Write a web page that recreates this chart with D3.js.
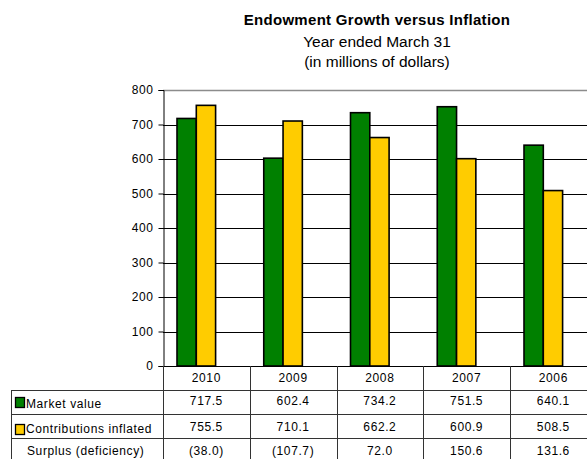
<!DOCTYPE html>
<html>
<head>
<meta charset="utf-8">
<script src="https://cdn.jsdelivr.net/npm/d3@7"></script>
<style>
  html, body { margin: 0; padding: 0; background: #fff; }
  svg { display: block; font-family: "Liberation Sans", Arial, sans-serif; }
  text { fill: #000; }
  .small { font-size: 12px; letter-spacing: 0.6px; }
</style>
</head>
<body>
<svg id="chart" width="587" height="459"></svg>
<script>
// Fiscal years (ended March 31), newest first
const years = ["2010", "2009", "2008", "2007", "2006"];
// Market value of the endowment, $ millions
const marketValue = [717.5, 602.4, 734.2, 751.5, 640.1];
// Contributions adjusted for inflation, $ millions
const contributionsInflated = [755.5, 710.1, 662.2, 600.9, 508.5];
const seriesNames = ["Market value", "Contributions inflated"];
const seriesColors = ["#008000", "#FFCC00"];
const yTicks = [0, 100, 200, 300, 400, 500, 600, 700, 800];

const series = [marketValue, contributionsInflated];
const surplus = marketValue.map((v, i) => +(v - contributionsInflated[i]).toFixed(1));

const svg = d3.select("#chart");

// Plot geometry
const plotLeft = 163, plotTop = 90, plotBottom = 366, step = 86.75;
const x0 = d3.scaleBand().domain(years).range([plotLeft, plotLeft + step * years.length]).padding(0);
const x1 = d3.scaleBand().domain(d3.range(series.length)).range([14, 14 + 38.6]).padding(0);
const y = d3.scaleLinear().domain([0, 800]).range([plotBottom, plotTop]);

// Titles
const titles = svg.append("g").attr("text-anchor", "middle");
titles.append("text").attr("x", 377).attr("y", 25)
  .style("font-size", "15px").style("font-weight", "bold").style("letter-spacing", "0.3px")
  .text("Endowment Growth versus Inflation");
titles.append("text").attr("x", 377).attr("y", 47)
  .style("font-size", "15.5px")
  .text("Year ended March 31");
titles.append("text").attr("x", 377).attr("y", 67)
  .style("font-size", "15.5px")
  .text("(in millions of dollars)");

// Horizontal gridlines
svg.append("g").selectAll("line").data(yTicks.filter(t => t > 0)).join("line")
  .attr("x1", plotLeft).attr("x2", 587)
  .attr("y1", d => Math.round(y(d)) + 0.5).attr("y2", d => Math.round(y(d)) + 0.5)
  .attr("stroke", d => d === 800 ? "#8c8c8c" : "#000")
  .attr("stroke-width", d => d === 800 ? 1.6 : 1);

// Y axis
const yAxis = svg.append("g").attr("transform", `translate(${plotLeft + 0.5},0)`)
  .call(d3.axisLeft(y).tickValues(yTicks).tickSize(5).tickPadding(5).tickFormat(d3.format("d")));
yAxis.select(".domain").attr("stroke", "#000");
yAxis.selectAll(".tick line").attr("stroke", "#000");
yAxis.selectAll(".tick text").attr("class", "small")
  .style("font-family", "'Liberation Sans', Arial, sans-serif").attr("fill", "#000");

// Bars
const groups = svg.append("g").selectAll("g").data(years).join("g")
  .attr("transform", d => `translate(${x0(d)},0)`);
groups.selectAll("rect").data((d, i) => series.map((s, k) => ({ k, v: s[i] }))).join("rect")
  .attr("x", d => x1(d.k))
  .attr("y", d => y(d.v))
  .attr("width", x1.bandwidth())
  .attr("height", d => y(0) - y(d.v))
  .attr("fill", d => seriesColors[d.k])
  .attr("stroke", "#000")
  .attr("stroke-width", 1.6);

// Baseline
svg.append("line").attr("x1", plotLeft).attr("x2", 587)
  .attr("y1", plotBottom + 0.5).attr("y2", plotBottom + 0.5).attr("stroke", "#000").attr("stroke-width", 1.2);

// Data table
const tableLeft = 11;
const rowTops = [391, 415, 439];
const rowBottom = 470;
const tbl = svg.append("g").attr("stroke", "#333").attr("stroke-width", 1);
rowTops.forEach(r => {
  tbl.append("line").attr("x1", tableLeft).attr("x2", 587).attr("y1", r - 0.5).attr("y2", r - 0.5);
});
tbl.append("line").attr("x1", tableLeft + 0.5).attr("x2", tableLeft + 0.5).attr("y1", rowTops[0] - 1).attr("y2", rowBottom);
years.forEach(yr => {
  const xv = Math.round(x0(yr)) + 0.5;
  tbl.append("line").attr("x1", xv).attr("x2", xv).attr("y1", plotBottom).attr("y2", rowBottom);
});
const xEnd = Math.round(x0(years[years.length - 1]) + x0.bandwidth()) + 0.5;
tbl.append("line").attr("x1", xEnd).attr("x2", xEnd).attr("y1", plotBottom).attr("y2", rowBottom);

// Header row: years
svg.append("g").attr("text-anchor", "middle").attr("class", "small")
  .selectAll("text").data(years).join("text")
  .attr("x", d => x0(d) + x0.bandwidth() / 2).attr("y", plotBottom + 16)
  .text(d => d);

const fmt = v => v < 0 ? `(${Math.abs(v).toFixed(1)})` : v.toFixed(1);
const rows = [
  { label: seriesNames[0], color: seriesColors[0], values: marketValue, vy: 13.5, ly: 16.7, sy: 6.5 },
  { label: seriesNames[1], color: seriesColors[1], values: contributionsInflated, vy: 15.7, ly: 17.7, sy: 9.5 },
  { label: "Surplus (deficiency)", color: null, values: surplus, vy: 15.5, ly: 16 }
];
rows.forEach((row, ri) => {
  const rt = rowTops[ri];
  if (row.color) {
    svg.append("rect").attr("x", 15.5).attr("y", rt + row.sy).attr("width", 9).attr("height", 10)
      .attr("fill", row.color).attr("stroke", "#000").attr("stroke-width", 1.3);
  }
  svg.append("text").attr("class", "small").attr("x", row.color ? 26 : 27).attr("y", rt + row.ly)
    .text(row.label);
  svg.append("g").attr("text-anchor", "middle").attr("class", "small")
    .selectAll("text").data(row.values).join("text")
    .attr("x", (d, i) => x0(years[i]) + x0.bandwidth() / 2).attr("y", rt + row.vy)
    .text(d => fmt(d));
});
</script>
</body>
</html>
